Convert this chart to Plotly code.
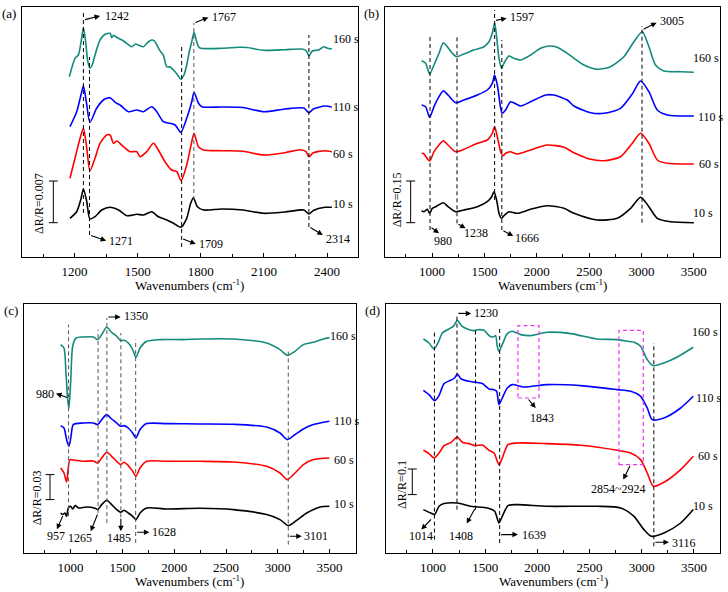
import plotly.graph_objects as go

FONT = "Liberation Serif, Times New Roman, serif"
TEAL = "#138a7b"
SERIES = ["160 s", "110 s", "60 s", "10 s"]
COLORS = {"160 s": TEAL, "110 s": "#0000ff", "60 s": "#ff0000", "10 s": "#000000"}

# ---------------- data (signals in a.u.) ----------------
# panel (a)
a160_wn = [1175,1202,1218,1232,1242,1252,1262,1273,1285,1297,1321,1345,1369,1377,1385,1400,1425,1448,1472,1490,1503,1527,1550,1567,1580,1591,1610,1622,1638,1655,1670,1690,1705,1720,1733,1745,1757,1768,1778,1790,1800,1900,1980,2020,2100,2200,2280,2300,2314,2330,2360,2385,2400,2423]
a160_s = [-28.4,-10,-6.7,8,20.6,8,-12,-20,-16,-6.7,8.3,14,15,10.6,13,11,8.3,5,1.6,4.3,3.3,1.6,6.3,8.3,7.3,3.3,-3.7,-6.7,-18.4,-18.7,-21.7,-26.7,-31,-26.7,-16.7,-3.7,6.6,16,8.3,1.3,0,0,1,0.8,-2,-1.4,-0.7,-2.2,-7.4,-2.7,-1.7,1.6,0.3,-0.7]
a110_wn = [1178,1210,1228,1242,1256,1273,1305,1337,1369,1393,1416,1456,1496,1527,1567,1591,1622,1653,1678,1705,1733,1757,1768,1789,1805,1900,2000,2100,2200,2290,2314,2335,2390,2423]
a110_s = [-19.7,-4.7,10,21,5,-15.3,-1.3,7,9.3,4.7,2,-4.7,-3,-4.7,0.3,-4.7,-14.7,-16.3,-18,-25.3,-11.3,5.3,14.7,3.7,0.3,0,-0.5,-4.7,-2,-1,-5.7,-2,1,0]
a60_wn = [1178,1202,1226,1242,1258,1273,1297,1321,1353,1369,1385,1401,1432,1464,1496,1511,1543,1575,1598,1630,1661,1686,1706,1733,1757,1768,1789,1813,1900,2000,2100,2200,2272,2300,2314,2335,2390,2423]
a60_s = [-27.6,-7.6,12.4,22.4,2.4,-20.3,-7.6,7.4,15.7,15.7,7.4,9.7,4,-1,-1,-6,-1,7.4,0.7,-11,-19.3,-21,-30,-14.3,9,17.4,4,0.7,0,-0.5,-4.3,-2,1,-1,-6,-2,0,-1]
a10_wn = [1178,1210,1229,1242,1258,1273,1297,1329,1369,1409,1448,1496,1527,1567,1598,1638,1670,1705,1733,1752,1765,1784,1813,1900,2000,2100,2200,2290,2314,2335,2390,2423]
a10_s = [-9.3,-2.7,9,20,7.3,-10,-7.7,-1,1.7,-1,-6.7,-5.3,-6,-2.7,-7.7,-11,-14.3,-18.3,-9.3,5.7,11.3,2.3,-1,0,-1,-4.3,-3,-1,-5,-1.5,1.7,1.7]

# panel (b)
b160_wn = [900,938,976,1018,1066,1107,1145,1193,1234,1304,1400,1495,1543,1575,1597,1616,1639,1664,1686,1734,1782,1846,1941,2036,2116,2195,2291,2355,2450,2577,2705,2832,2928,3007,3071,3134,3214,3373,3500]
b160_s = [11.3,8.7,-2,7,18.7,29.3,25.3,18.7,15.3,18,22,25.3,30.3,38.7,49.3,35.3,13.7,3.7,8.7,16,13.7,12,17,23.7,26,24.7,18.7,13.7,7,2.7,5.3,15.3,30.3,40.3,25.3,7,1,0.3,-0.3]
b110_wn = [900,938,976,1018,1066,1107,1152,1225,1304,1432,1527,1575,1597,1623,1655,1670,1702,1750,1846,1941,2084,2164,2291,2355,2514,2641,2800,2912,2991,3071,3151,3246,3500]
b110_s = [11,9.3,-1.3,9.3,19.3,25.3,21,13.3,16,21,26,32.7,41,31,7.7,2.7,6,14.3,10,14.3,21,21,16,10,3.3,2.7,7.7,22,35,24.3,6,1,0]
b60_wn = [900,922,976,1018,1066,1107,1152,1225,1304,1432,1527,1575,1597,1623,1655,1677,1702,1744,1814,1941,2100,2259,2355,2514,2641,2800,2912,2991,3071,3151,3246,3500]
b60_s = [10.7,10,3,12.3,19,23.3,19,12.3,14.7,20.7,24,30.7,37.3,27.3,12.3,8.3,10.7,12.3,10,14,19,16.7,11.3,4.7,3.3,7.3,20.7,30.7,20.7,4,0.7,0]
b10_wn = [900,922,954,976,1002,1034,1107,1152,1225,1304,1432,1527,1569,1591,1616,1639,1661,1693,1734,1814,1941,2100,2259,2355,2577,2768,2896,2991,3071,3151,3278,3500]
b10_s = [12,11,13.4,9.4,14.4,16,20,16,11,12.7,16,21,26,31,22.7,9.4,4.4,7.7,11,9.4,13.4,17,14.4,9.4,2.7,4.4,14.4,25.4,16,4.4,1,0]

# panel (c)
c160_wn = [904,936,955,972,984,1000,1020,1052,1123,1219,1261,1300,1348,1396,1445,1483,1515,1557,1599,1631,1670,1734,1863,2088,2249,2571,2893,3021,3092,3166,3247,3343,3440,3498]
c160_s = [-5.6,-9,-34,-60.6,-69,-44,-7.3,1,2,2,-0.6,4.4,11.7,6.7,2.7,-1.6,-1.3,-4,-10.6,-18.3,-9,-2.3,-0.6,-0.6,0,0,-4,-10.6,-16.3,-12.3,-5.6,-3.3,0,1.4]
c110_wn = [904,936,961,984,1004,1026,1123,1219,1261,1300,1348,1396,1445,1483,1515,1557,1599,1631,1670,1734,1927,2249,2571,2893,3021,3092,3166,3247,3343,3498]
c110_s = [-2,-4.4,-16,-22.7,-12.7,-1,0.6,0.6,-1,4,9,4.6,0.6,-2.7,-2,-4.4,-9.4,-14.4,-6,0,0,-0.4,-0.7,-3.4,-9.4,-16,-11,-5.4,-1,2.3]
c60_wn = [904,936,961,994,1044,1123,1219,1261,1300,1348,1396,1445,1483,1515,1557,1599,1631,1670,1734,1927,2249,2571,2893,3021,3092,3166,3247,3343,3498]
c60_s = [-6.7,-11.7,-20.7,1.7,1,0,0.3,-1.7,3.3,9,5,0,-3.3,-1,-4.3,-10,-15,-6.7,0,0,0,-0.7,-5,-11.7,-18.3,-11.7,-3.3,1.7,3.3]
c10_wn = [904,923,945,961,978,1000,1020,1044,1077,1155,1236,1261,1300,1348,1396,1445,1483,1515,1557,1599,1631,1670,1734,1927,2249,2571,2893,3021,3101,3182,3279,3408,3498]
c10_s = [-4.7,-6.3,-4.7,-8,0.3,2,-0.7,2.7,0.3,1.3,0,-1.3,3.7,8,3.7,-1.3,-4,-2,-4.7,-8,-11.3,-4.7,0.3,-0.7,0,-1.3,-6.3,-11.3,-17.3,-12,-4.7,1.3,2]

# panel (d)
d160_wn = [908,962,1010,1048,1090,1153,1201,1233,1272,1329,1393,1441,1489,1537,1578,1600,1616,1632,1664,1712,1760,1840,1936,2095,2319,2574,2766,2862,2926,2989,3053,3111,3213,3341,3494]
d160_s = [-1.7,-5.7,-11.7,-5.7,4.3,8.3,11.7,17,11.7,8.3,6.7,7.7,7,1.7,0.3,1.7,-9,-14,-7.3,3.7,6,2.7,1.7,5,3.7,-1.7,-2.3,-4,-5,-9,-22.3,-28.3,-25.7,-19.7,-10]
d110_wn = [908,962,1016,1058,1106,1169,1207,1233,1272,1345,1409,1473,1537,1578,1610,1632,1664,1712,1760,1872,2095,2415,2766,2894,2989,3053,3101,3213,3373,3494]
d110_s = [-4,-8.3,-14.3,-9.3,2.7,6,8.3,12.3,7.3,5,4,2.7,-2.7,-3.3,-5,-18.3,-11.7,-1.7,1.7,-0.7,1.7,0.7,-3.3,-5,-10,-21.7,-33.3,-31.7,-21.7,-10]
d60_wn = [908,962,1010,1058,1106,1175,1233,1281,1345,1409,1473,1537,1585,1632,1664,1719,1808,2095,2415,2766,2894,2989,3053,3111,3213,3373,3494]
d60_s = [-5,-8.3,-12.7,-7.7,-0.3,3,8.3,3,1.7,-0.3,0.3,-5,-7.7,-19.3,-12.7,0.7,2.3,1.7,0,-5,-7.7,-14.3,-27.7,-41,-37,-24.3,-11]
d10_wn = [908,978,1016,1058,1106,1233,1361,1521,1591,1632,1664,1719,1808,2095,2574,2798,2926,3021,3092,3213,3373,3494]
d10_s = [-3.3,-6.7,-8.3,0,2.7,3.3,0,-1.7,-5,-16.7,-10,0.7,1.7,0,0,-1.7,-10,-23.3,-30,-26.7,-16.7,-3.3]

# labelled peak positions (cm-1)
peaks_a = [1242, 1271, 1709, 1767, 2314]
peaks_b = [980, 1238, 1597, 1666, 3005]
peaks_c = [957, 980, 1265, 1350, 1485, 1628, 3101]
peaks_d = [1014, 1230, 1408, 1639, 1843, 3116]
scale_labels = {"a": "ΔR/R=0.007", "b": "ΔR/R=0.15", "c": "ΔR/R=0.03", "d": "ΔR/R=0.1"}

# ---------------- layout helpers ----------------
W, H = 728, 592
panels = {
    "a": dict(ax="", px=(22, 357.5), py=(7.3, 257), xr=[950, 2545], dt=300, mdt=150,
              curves=[(a160_wn, a160_s), (a110_wn, a110_s), (a60_wn, a60_s), (a10_wn, a10_s)],
              offsets=[208.7, 150, 106.3, 48]),
    "b": dict(ax="2", px=(385, 720), py=(7.3, 257), xr=[550, 3750], dt=500, mdt=250,
              curves=[(b160_wn, b160_s), (b110_wn, b110_s), (b60_wn, b60_s), (b10_wn, b10_s)],
              offsets=[185, 141, 93, 34.3]),
    "c": dict(ax="3", px=(24, 355.5), py=(304, 553.3), xr=[550, 3750], dt=500, mdt=250,
              curves=[(c160_wn, c160_s), (c110_wn, c110_s), (c60_wn, c60_s), (c10_wn, c10_s)],
              offsets=[214.3, 129.7, 92, 45]),
    "d": dict(ax="4", px=(386, 720), py=(304, 553.3), xr=[550, 3750], dt=500, mdt=250,
              curves=[(d160_wn, d160_s), (d110_wn, d110_s), (d60_wn, d60_s), (d10_wn, d10_s)],
              offsets=[216, 167, 108, 47]),
}

fig = go.Figure()
layout = dict(width=W, height=H, margin=dict(l=0, r=0, t=0, b=0, autoexpand=False),
              paper_bgcolor="white", plot_bgcolor="white", showlegend=False,
              font=dict(family=FONT, size=12, color="black"))
shapes, annotations = [], []

for key, p in panels.items():
    s = p["ax"]
    xname, yname = "xaxis" + s, "yaxis" + s
    xid, yid = "x" + s, "y" + s
    yh = p["py"][1] - p["py"][0]
    layout[xname] = dict(domain=[p["px"][0] / W, p["px"][1] / W], range=p["xr"], anchor=yid,
                         tick0=0, dtick=p["dt"], ticks="inside", ticklen=4, tickwidth=1, tickcolor="black",
                         minor=dict(ticks="inside", dtick=p["mdt"], ticklen=3, tickcolor="black"),
                         showline=True, linecolor="black", linewidth=1, mirror=True,
                         showgrid=False, zeroline=False,
                         tickfont=dict(family=FONT, size=13, color="black"), ticklabelstandoff=2)
    layout[yname] = dict(domain=[1 - p["py"][1] / H, 1 - p["py"][0] / H], range=[0, yh], anchor=xid,
                         showticklabels=False, ticks="", showline=True, linecolor="black", linewidth=1,
                         mirror=True, showgrid=False, zeroline=False)
    for name, (wn, sig), off in zip(SERIES, p["curves"], p["offsets"]):
        fig.add_trace(go.Scatter(x=wn, y=[v + off for v in sig], mode="lines", xaxis=xid, yaxis=yid,
                                 line=dict(color=COLORS[name], width=1.6, shape="spline", smoothing=0.7),
                                 hoverinfo="skip", showlegend=False))
    # axis title
    annotations.append(dict(xref="paper", yref="paper", x=(p["px"][0] + p["px"][1]) / 2 / W,
                            y=1 - (p["py"][1] + 28) / H, text="Wavenumbers (cm<sup>-1</sup>)",
                            showarrow=False, font=dict(size=13, family=FONT), xanchor="center", yanchor="middle"))
    # panel letter
    annotations.append(dict(xref="paper", yref="paper", x=(p["px"][0] - 13.5) / W, y=1 - (p["py"][0] + 6) / H,
                            text="(%s)" % key, showarrow=False, font=dict(size=13, family=FONT),
                            xanchor="center", yanchor="middle"))

def vline(s, x, y0, y1, color="black"):
    shapes.append(dict(type="line", xref="x" + s, yref="y" + s, x0=x, x1=x, y0=y0, y1=y1,
                       line=dict(color=color, width=1, dash="4px,3px")))

def arrow(s, tx, ty, hx, hy):
    annotations.append(dict(xref="x" + s, yref="y" + s, axref="x" + s, ayref="y" + s, x=hx, y=hy, ax=tx, ay=ty,
                            text="", showarrow=True, arrowhead=2, arrowsize=1, arrowwidth=1.1,
                            arrowcolor="black", standoff=0, startstandoff=0))

def label(s, x, y, text, anchor="left", size=12, angle=0):
    annotations.append(dict(xref="x" + s, yref="y" + s, x=x, y=y, text=text, showarrow=False,
                            xanchor=anchor, yanchor="middle", textangle=angle,
                            font=dict(size=size, family=FONT, color="black")))

def scalebar(s, x, y0, y1, cap, tx, ty, text):
    shapes.append(dict(type="line", xref="x" + s, yref="y" + s, x0=x, x1=x, y0=y0, y1=y1, line=dict(color="black", width=1)))
    for yy in (y0, y1):
        shapes.append(dict(type="line", xref="x" + s, yref="y" + s, x0=x - cap, x1=x + cap, y0=yy, y1=yy,
                           line=dict(color="black", width=1)))
    label(s, tx, ty, text, anchor="center", angle=-90)

def series_labels(s, pos):
    for name, (x, y) in zip(SERIES, pos):
        label(s, x, y, name)

# ----- panel (a) -----
s = ""
for pk, y0, y1, col in zip(peaks_a, [44, 22, 10, 57, 30], [245, 200, 210, 234, 222],
                           ["black", "black", "black", "#555555", "black"]):
    vline(s, pk, y0, y1, col)
arrow(s, peaks_a[0], 237, 1321, 241); label(s, 1335, 241, str(peaks_a[0]))
arrow(s, peaks_a[3], 234, 1836, 239.5); label(s, 1843, 240, str(peaks_a[3]))
arrow(s, peaks_a[1], 22, 1350, 16.3); label(s, 1356, 16, str(peaks_a[1]))
arrow(s, peaks_a[2], 18.7, 1776, 13); label(s, 1781, 13, str(peaks_a[2]))
arrow(s, peaks_a[4], 30.3, 2380, 22); label(s, 2385, 17.7, str(peaks_a[4]))
scalebar(s, 1099, 34.3, 76, 21, 1034, 53.7, scale_labels["a"])
series_labels(s, [(2420, 217.7), (2420, 150.3), (2420, 103), (2420, 53)])

# ----- panel (b) -----
s = "2"
for pk, y0, y1 in zip(peaks_b, [27, 33.7, 57, 27, 34.3], [221, 221, 247, 217, 231]):
    vline(s, pk, y0, y1)
arrow(s, peaks_b[0], 30.3, 1066, 23.7); label(s, 1107, 16.3, str(peaks_b[0]), "center")
arrow(s, peaks_b[1], 33.7, 1320, 28.7); label(s, 1416, 23.7, str(peaks_b[1]), "center")
arrow(s, peaks_b[2], 236.3, 1712, 238.7); label(s, 1724, 239.7, str(peaks_b[2]))
arrow(s, peaks_b[3], 27, 1775, 21); label(s, 1909, 18.7, str(peaks_b[3]), "center")
arrow(s, peaks_b[4], 227, 3144, 234.3); label(s, 3157, 236, str(peaks_b[4]))
scalebar(s, 795, 34.3, 76, 43, 668, 57, scale_labels["b"])
series_labels(s, [(3469, 198.7), (3517, 139.7), (3526, 93), (3469, 43.7)])

# ----- panel (c) -----
s = "3"
G = "#555555"
for pk, y0, y1 in zip(peaks_c[1:], [37, 40.3, 30.3, 36, 10.3, 8.7], [228.7, 223.7, 235.3, 220.3, 213.7, 202]):
    vline(s, pk, y0, y1, G)
arrow(s, 930, 38.7, 868, 24); label(s, 856, 17.7, str(peaks_c[0]), "center")
arrow(s, peaks_c[1], 155.3, 859, 159.7); label(s, 855, 159, str(peaks_c[1]), "right")
arrow(s, peaks_c[2], 40.3, 1194, 22); label(s, 1091, 15.3, str(peaks_c[2]), "center")
arrow(s, peaks_c[3], 236.3, 1483, 236.3); label(s, 1493, 237, str(peaks_c[3]))
arrow(s, peaks_c[4], 36, peaks_c[4], 22); label(s, 1464, 15.3, str(peaks_c[4]), "center")
arrow(s, peaks_c[5], 21, 1760, 21); label(s, 1766, 21, str(peaks_c[5]))
arrow(s, peaks_c[6], 17, 3231, 17); label(s, 3235, 17, str(peaks_c[6]))
scalebar(s, 801, 53.7, 78.7, 43, 679, 55.3, scale_labels["c"])
series_labels(s, [(3488, 217), (3520, 132), (3520, 93.7), (3520, 49.7)])

# ----- panel (d) -----
s = "4"
for pk, y0, y1 in zip([peaks_d[0], peaks_d[1], peaks_d[2], peaks_d[3], peaks_d[5]],
                      [13.7, 43.7, 43.7, 10.3, 7], [223.7, 237, 223.7, 225.3, 210.3]):
    vline(s, pk, y0, y1)
for x0, x1, y0, y1 in [(1814, 2016, 155.3, 227.7), (2782, 3015, 88.7, 223)]:
    shapes.append(dict(type="rect", xref="x4", yref="y4", x0=x0, x1=x1, y0=y0, y1=y1,
                       line=dict(color="#ee33ee", width=1.2, dash="4px,3px")))
arrow(s, 994, 35.3, 888, 23.7); label(s, 882, 17.7, str(peaks_d[0]), "center")
arrow(s, peaks_d[1], 240, 1367, 239.7); label(s, 1377, 240, str(peaks_d[1]))
arrow(s, peaks_d[2], 45.7, 1323, 29.7); label(s, 1268, 17.7, str(peaks_d[2]), "center")
arrow(s, peaks_d[3], 18.7, 1814, 18.7); label(s, 1834, 18.7, str(peaks_d[3]))
arrow(s, peaks_d[5], 11, 3261, 11); label(s, 3270, 10.3, str(peaks_d[5]))
arrow(s, 1904, 155.3, 1984, 145.3); label(s, 2048, 135.3, str(peaks_d[4]), "center")
arrow(s, 2894, 88.7, 2823, 73.7); label(s, 2782, 64.3, "2854~2924", "center")
scalebar(s, 802, 58.7, 84.3, 43, 697, 68.7, scale_labels["d"])
series_labels(s, [(3462, 221), (3500, 155.3), (3516, 97), (3468, 47.7)])

layout["shapes"] = shapes
layout["annotations"] = annotations
fig.update_layout(**layout)
fig.write_html("out.html", config={"displayModeBar": False},
               post_script="document.body.style.margin='0';document.body.style.padding='0';")
